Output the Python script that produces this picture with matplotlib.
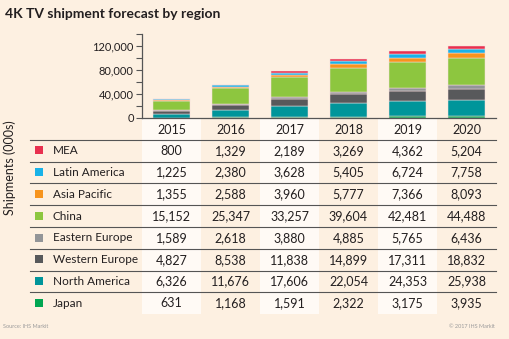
import matplotlib
matplotlib.use("Agg")
import matplotlib.pyplot as plt
from matplotlib.patches import Rectangle
from matplotlib.ticker import FuncFormatter, MultipleLocator

plt.rcParams['font.family'] = ['Lato', 'DejaVu Sans']

years = ['2015', '2016', '2017', '2018', '2019', '2020']
regions = ['MEA', 'Latin America', 'Asia Pacific', 'China',
           'Eastern Europe', 'Western Europe', 'North America', 'Japan']
colors = ['#e8304f', '#19b2e8', '#f7941d', '#8dc63f',
          '#939598', '#58595b', '#00959a', '#00a651']

mea = [800, 1329, 2189, 3269, 4362, 5204]
latin_america = [1225, 2380, 3628, 5405, 6724, 7758]
asia_pacific = [1355, 2588, 3960, 5777, 7366, 8093]
china = [15152, 25347, 33257, 39604, 42481, 44488]
eastern_europe = [1589, 2618, 3880, 4885, 5765, 6436]
western_europe = [4827, 8538, 11838, 14899, 17311, 18832]
north_america = [6326, 11676, 17606, 22054, 24353, 25938]
japan = [631, 1168, 1591, 2322, 3175, 3935]

series = [mea, latin_america, asia_pacific, china,
          eastern_europe, western_europe, north_america, japan]

bg = '#fdf0e1'
col_bg = '#fffaf5'
axis_col = '#555555'
text_col = '#231f20'

W, H = 509, 339
fig = plt.figure(figsize=(W / 100, H / 100), dpi=100, facecolor=bg)

left_px, right_px = 142, 496
axis_px, top_px = 118, 34
ax = fig.add_axes([left_px / W, 1 - axis_px / H,
                   (right_px - left_px) / W, (axis_px - top_px) / H])
ax.set_facecolor('none')

# stacked bars, bottom segment is the last region in the table
x = list(range(len(years)))
bottom = [0] * len(years)
for name, vals, c in reversed(list(zip(regions, series, colors))):
    ax.bar(x, vals, width=0.63, bottom=bottom, color=c,
           edgecolor='#f6dcdc', linewidth=0.35)
    bottom = [b + v for b, v in zip(bottom, vals)]

ax.set_xlim(-0.5, len(years) - 0.5)
ax.set_ylim(0, 140000)
ax.yaxis.set_major_locator(MultipleLocator(40000))
ax.yaxis.set_minor_locator(MultipleLocator(20000))
ax.yaxis.set_major_formatter(FuncFormatter(lambda v, p: f'{int(v):,}'))
ax.tick_params(axis='y', which='both', length=4, width=0.8,
               color=axis_col, labelsize=8, labelcolor=text_col, pad=2)
ax.set_xticks([])
for s in ['top', 'right']:
    ax.spines[s].set_visible(False)
for s in ['left', 'bottom']:
    ax.spines[s].set_color(axis_col)
    ax.spines[s].set_linewidth(0.9)

# data table under the bars, sharing the column layout
row_px = 21.8
tab = fig.add_axes([left_px / W, 0, (right_px - left_px) / W, 1 - axis_px / H],
                   sharex=ax)
tab.set_ylim((H - axis_px) / row_px, 0)
tab.axis('off')
tab.set_zorder(-1)

n_rows = len(regions)
for i in range(0, len(years), 2):
    tab.add_patch(Rectangle((i - 0.5, 0), 1, n_rows + 1, facecolor=col_bg,
                            edgecolor='none', zorder=0))

px = lambda p: -0.5 + (p - left_px) / ((right_px - left_px) / len(years))
line_left = px(30)

for i, yr in enumerate(years):
    tab.text(i, 0.55, yr, ha='center', va='center', fontsize=9, color=text_col)

for r in range(1, n_rows + 1):
    tab.plot([line_left, len(years) - 0.5], [r, r], color=axis_col,
             lw=0.8, clip_on=False, zorder=2)

for r, (name, vals, c) in enumerate(zip(regions, series, colors)):
    yc = r + 1.5
    tab.add_patch(Rectangle((px(35), yc - 0.2), px(43) - px(35), 0.37,
                            facecolor=c, edgecolor='none', clip_on=False))
    tab.text(px(53), yc, name, ha='left', va='center', fontsize=8.5,
             color=text_col, clip_on=False)
    for i, v in enumerate(vals):
        tab.text(i, yc, f'{v:,}', ha='center', va='center', fontsize=9,
                 color=text_col)

fig.text(5 / W, 1 - 14 / H, '4K TV shipment forecast by region',
         fontsize=10, fontweight='bold', color=text_col, va='center')
fig.text(10 / W, 1 - 168 / H, 'Shipments (000s)', rotation=90,
         fontsize=9, color=text_col, ha='center', va='center')
fig.text(3 / W, 1 - 327 / H, 'Source: IHS Markit', fontsize=4,
         color='#9a9a9a', va='center')
fig.text(495 / W, 1 - 327 / H, '\u00a9 2017 IHS Markit', fontsize=4,
         color='#9a9a9a', va='center', ha='right')

fig.savefig('out.png', dpi=100, facecolor=bg)
